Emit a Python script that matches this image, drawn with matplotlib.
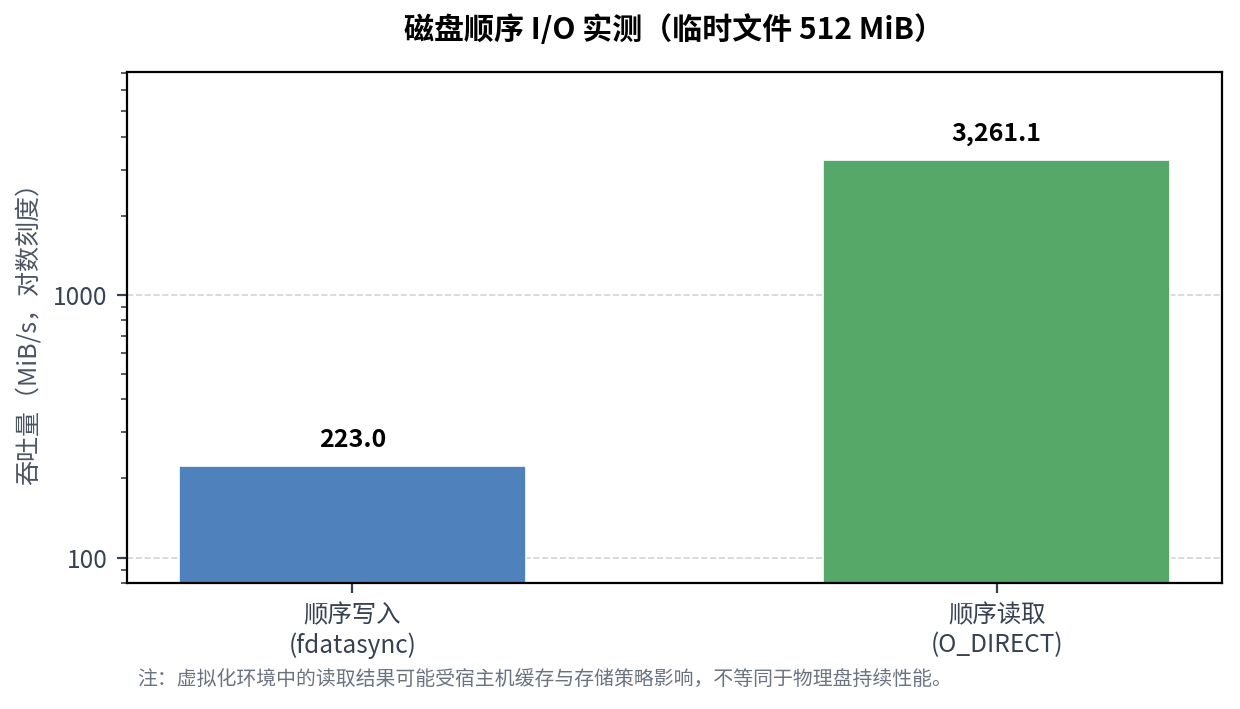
import matplotlib
matplotlib.use("Agg")
import matplotlib.pyplot as plt
import numpy as np

plt.rcParams['font.family'] = ['Noto Sans CJK SC', 'DejaVu Sans']

# data
categories = ["顺序写入\n(fdatasync)", "顺序读取\n(O_DIRECT)"]
throughput = [223.0, 3261.1]
bar_colors = ["#4f81bd", "#55a868"]
title = "磁盘顺序 I/O 实测（临时文件 512 MiB）"
ylabel = "吞吐量（MiB/s，对数刻度）"
note = "注：虚拟化环境中的读取结果可能受宿主机缓存与存储策略影响，不等同于物理盘持续性能。"

fig = plt.figure(figsize=(6.2, 3.545), dpi=200)
ax = fig.add_axes([0.1024, 0.1777, 0.8831, 0.7207])

x = np.arange(len(categories))
bars = ax.bar(x, throughput, width=0.54, color=bar_colors,
              edgecolor="white", linewidth=0.6, zorder=2)

ax.set_yscale("log")
ax.set_ylim(80, 7050)
ax.set_xlim(-0.35, 1.35)

for b, v in zip(bars, throughput):
    ax.annotate(f"{v:,.1f}", (b.get_x() + b.get_width() / 2, v),
                xytext=(0, 5), textcoords="offset points",
                ha="center", va="bottom", fontsize=9, fontweight="bold",
                color="black")

ax.set_xticks(x)
ax.set_xticklabels(categories, fontsize=8.8, color="#374151")
ax.tick_params(axis="y", which="major", labelsize=8.8, labelcolor="#374151",
               color="#374151")
ax.tick_params(axis="y", which="minor", color="#374151")
ax.tick_params(axis="x", color="#374151")
ax.yaxis.set_major_formatter(matplotlib.ticker.FuncFormatter(lambda v, p: f"{v:g}"))

ax.yaxis.grid(True, which="major", linestyle="--", color="#d1d5db", linewidth=0.6)
ax.set_axisbelow(True)

ax.set_ylabel(ylabel, fontsize=9, color="#4b5563")
ax.set_title(title, fontsize=10.8, fontweight="bold", pad=12)

fig.text(0.1105, 0.041, note, fontsize=7.15, color="#6b7280", va="center", ha="left")

fig.savefig("out.png", dpi=200)
